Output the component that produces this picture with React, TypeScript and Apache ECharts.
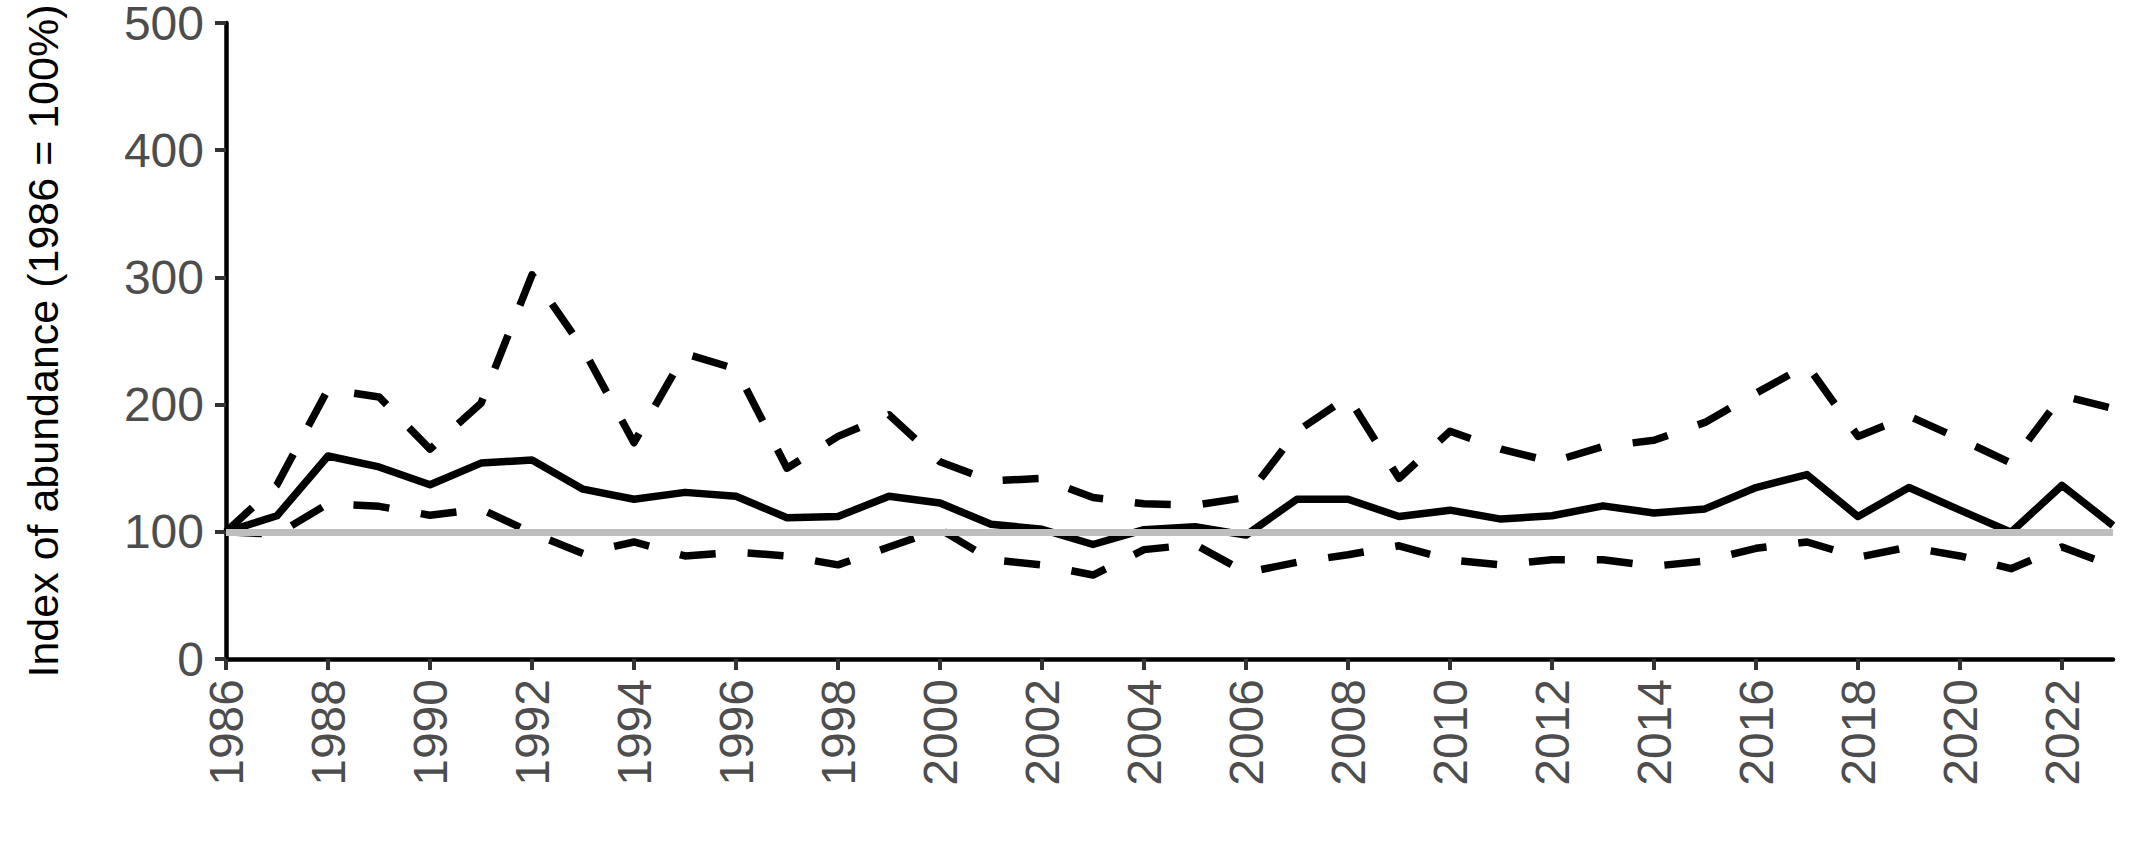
import React, { useEffect, useRef } from "react";
import * as echarts from "echarts";

const years: string[] = [
  "1986","1987","1988","1989","1990","1991","1992","1993","1994","1995",
  "1996","1997","1998","1999","2000","2001","2002","2003","2004","2005",
  "2006","2007","2008","2009","2010","2011","2012","2013","2014","2015",
  "2016","2017","2018","2019","2020","2021","2022","2023",
];

const indexValues: number[] = [
  100, 112.6, 159.6, 151, 137, 154, 156.5, 133.5, 125.6, 131,
  128, 111, 112, 128, 122.6, 106, 102, 90, 101.7, 104,
  97.4, 125.6, 125.6, 112, 117, 110, 112.6, 120.4, 114.8, 118,
  134.8, 145, 112, 134.8, 117, 99.6, 136.5, 105,
];

const upperValues: number[] = [
  100, 137, 212, 206, 165, 201, 302, 244, 170, 240,
  228, 150, 175, 192, 155, 140, 142, 127, 122, 121,
  127, 179, 206, 142, 179, 165, 155, 167, 172, 186,
  209, 231, 175, 191, 173, 154, 207, 197,
];

const lowerValues: number[] = [
  100, 98, 122, 120, 113, 118, 99, 83, 92, 81,
  84, 81, 74, 88, 102, 78, 74, 66, 86, 90,
  68, 76, 82, 89, 78, 74, 78, 78, 73, 77,
  87, 92, 80, 88, 81, 71, 88, 73,
];

const baseline = 100;
const yTicks = { min: 0, max: 500, interval: 100 };
const yName = "Index of abundance (1986 = 100%)";

const FONT = "'Liberation Sans', Arial, Helvetica, sans-serif";

export default function App() {
  const ref = useRef<HTMLDivElement>(null);

  useEffect(() => {
    if (!ref.current) return;
    const chart = echarts.init(ref.current, undefined, { renderer: "svg" });
    const dashed = {
      color: "#000",
      width: 7.5,
      type: [36, 32] as number[],
      cap: "butt" as const,
      join: "round" as const,
    };
    chart.setOption({
      animation: false,
      backgroundColor: "#ffffff",
      grid: {
        left: 226,
        right: 23,
        top: 23,
        bottom: 207,
        containLabel: false,
        outerBoundsMode: "none",
      },
      xAxis: {
        type: "category",
        data: years,
        boundaryGap: false,
        axisLine: { show: true, lineStyle: { color: "#000", width: 4.5 } },
        axisTick: {
          show: true,
          interval: 1,
          length: 11,
          alignWithLabel: true,
          lineStyle: { color: "#333", width: 4 },
        },
        axisLabel: {
          interval: 1,
          rotate: 90,
          margin: 20,
          color: "#4d4d4d",
          fontSize: 48,
          fontFamily: FONT,
        },
        splitLine: { show: false },
      },
      yAxis: {
        type: "value",
        min: yTicks.min,
        max: yTicks.max,
        interval: yTicks.interval,
        name: yName,
        nameLocation: "middle",
        nameGap: 162,
        nameTextStyle: { color: "#000", fontSize: 43, fontFamily: FONT },
        axisLine: { show: true, lineStyle: { color: "#000", width: 4.5 } },
        axisTick: { show: true, length: 11, lineStyle: { color: "#333", width: 4 } },
        axisLabel: {
          margin: 22,
          color: "#4d4d4d",
          fontSize: 48,
          lineHeight: 40,
          fontFamily: FONT,
        },
        splitLine: { show: false },
      },
      series: [
        {
          name: "baseline",
          type: "line",
          data: years.map(() => null),
          z: 1,
          silent: true,
          showSymbol: false,
          markLine: {
            silent: true,
            symbol: ["none", "none"],
            label: { show: false },
            lineStyle: { color: "#bebebe", width: 7, type: "solid" },
            data: [{ yAxis: baseline }],
          },
        },
        {
          name: "upper",
          type: "line",
          data: upperValues,
          z: 2,
          showSymbol: false,
          lineStyle: dashed,
        },
        {
          name: "lower",
          type: "line",
          data: lowerValues,
          z: 2,
          showSymbol: false,
          lineStyle: dashed,
        },
        {
          name: "index",
          type: "line",
          data: indexValues,
          z: 3,
          showSymbol: false,
          lineStyle: { color: "#000", width: 7.5, type: "solid", join: "round" },
        },
      ],
    });
    return () => chart.dispose();
  }, []);

  return (
    <div
      ref={ref}
      style={{ position: "fixed", left: 0, top: 0, width: 2136, height: 866, background: "#fff" }}
    />
  );
}
